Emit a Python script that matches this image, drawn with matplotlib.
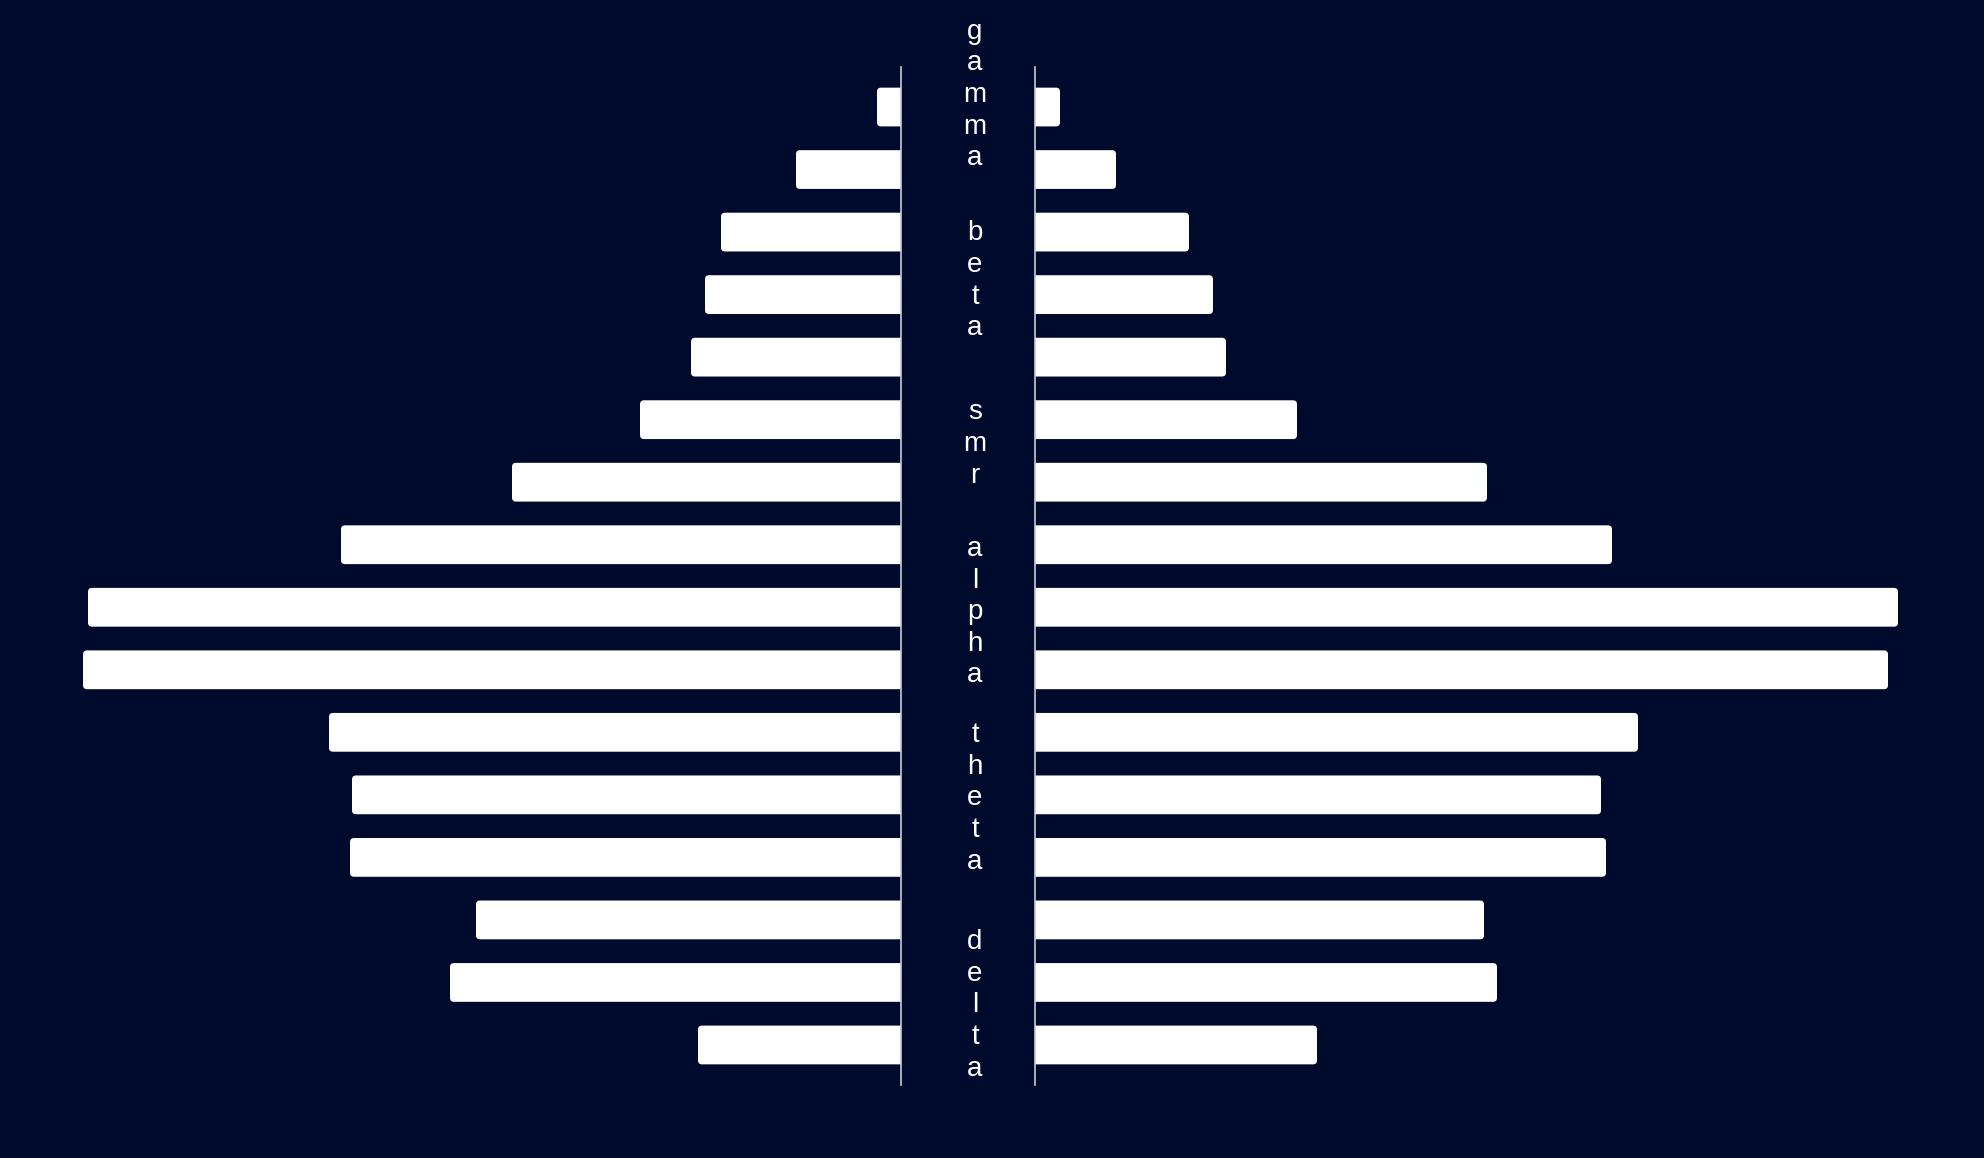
import numpy as np
import matplotlib
matplotlib.use("Agg")
import matplotlib.pyplot as plt
from matplotlib.patches import FancyBboxPatch

plt.rcParams["font.family"] = ["Liberation Sans", "DejaVu Sans"]

#=====================#
left_values = [2.4, 10.5, 18.0, 19.6, 21.0, 26.1, 38.9, 56.0,
               81.3, 81.8, 57.2, 54.9, 55.1, 42.5, 45.1, 20.3]
right_values = [2.5, 8.1, 15.4, 17.8, 19.1, 26.2, 45.2, 57.7,
                86.3, 85.3, 60.3, 56.6, 57.1, 44.9, 46.2, 28.2]
band_names = ["gamma", "beta", "smr", "alpha", "theta", "delta"]
band_pos = [-0.2, 2.77, 5.38, 8.07, 11.05, 14.36]
#=====================#

bg = "#000a2d"
W, H = 1984, 1158
fig = plt.figure(figsize=(W / 100, H / 100), dpi=100, facecolor=bg)

bottom = (H - 1085) / H
height = 1018 / H
axl = fig.add_axes([1 / W, bottom, 900 / W, height])
axr = fig.add_axes([1035 / W, bottom, 900 / W, height])

ypos = np.arange(len(left_values))
bar_h = 0.62


def rounded_bars(ax, vals):
    bars = ax.barh(ypos, vals, height=bar_h, color="none")
    for b in bars:
        x0, y0 = b.get_x(), b.get_y()
        w, h = b.get_width(), b.get_height()
        # start a bit behind the spine so the inner end looks square
        p = FancyBboxPatch((x0 - 0.6, y0), w + 0.6, h,
                           boxstyle="round,pad=0,rounding_size=0.4",
                           mutation_aspect=0.16,
                           facecolor="white", edgecolor="none")
        ax.add_patch(p)
        b.remove()


rounded_bars(axl, left_values)
rounded_bars(axr, right_values)

for ax in (axl, axr):
    ax.set_facecolor(bg)
    ax.set_ylim(15.64, -0.64)
    ax.set_xticks([])
    ax.set_yticks([])
    for s in ax.spines.values():
        s.set_visible(False)

axl.set_xlim(90, 0)
axr.set_xlim(0, 90)
axl.spines["right"].set_visible(True)
axl.spines["right"].set_color("#c8cbd6")
axl.spines["right"].set_linewidth(1.2)
axl.spines["right"].set_zorder(5)
axr.spines["left"].set_visible(True)
axr.spines["left"].set_color("#c8cbd6")
axr.spines["left"].set_linewidth(1.2)
axr.spines["left"].set_zorder(5)

# vertical band labels, one letter per line
pitch = 0.506
tr = matplotlib.transforms.blended_transform_factory(fig.transFigure, axl.transData)
for name, c in zip(band_names, band_pos):
    n = len(name)
    for k, ch in enumerate(name):
        y = c + (k - (n - 1) / 2) * pitch + 0.12
        axl.text(975 / W, y, ch, transform=tr, ha="center", va="baseline",
                 color="white", fontsize=20, clip_on=False)

fig.savefig("out.png", dpi=100, facecolor=bg)
